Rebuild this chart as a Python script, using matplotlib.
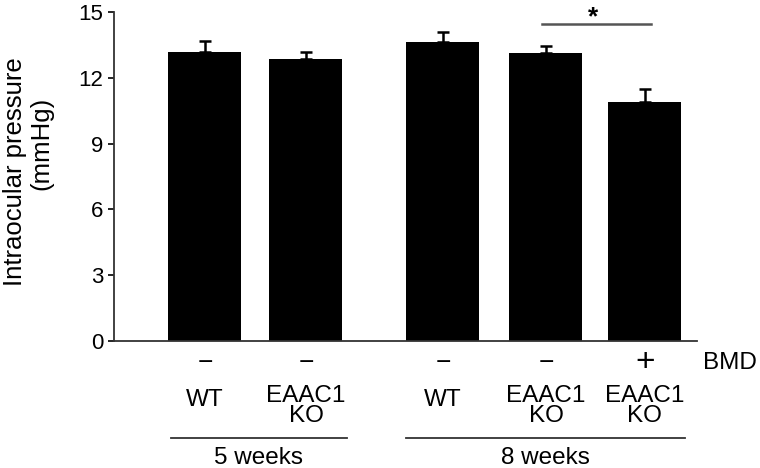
import numpy as np
import matplotlib
matplotlib.use("Agg")
from matplotlib import pyplot as plt
from matplotlib.transforms import blended_transform_factory

plt.rcParams['font.family'] = ['Liberation Sans', 'DejaVu Sans']

# data
positions = [0, 1.01, 2.38, 3.41, 4.40]
iop = [13.18, 12.85, 13.63, 13.12, 10.9]
sem = [0.5, 0.33, 0.46, 0.33, 0.6]
bmd = ['\u2212', '\u2212', '\u2212', '\u2212', '+']
genotype = ['WT', 'EAAC1\nKO', 'WT', 'EAAC1\nKO', 'EAAC1\nKO']
groups = ['5 weeks', '8 weeks']
group_spans = [(-0.34, 1.42), (2.01, 4.80)]
yticks = [0, 3, 6, 9, 12, 15]

fig = plt.figure(figsize=(7.6, 4.68), dpi=100)
ax = fig.add_axes([0.15, 0.2714, 0.767, 0.703])

ax.bar(positions, iop, width=0.73, color='black', zorder=2)
ax.errorbar(positions, iop, yerr=[np.zeros(len(sem)), sem], fmt='none',
            ecolor='black', elinewidth=1.8, capsize=4, capthick=1.8, zorder=1)

ax.set_xlim(-0.91, 4.92)
ax.set_ylim(0, 15)
ax.set_yticks(yticks)
ax.set_xticks([])
ax.tick_params(axis='y', labelsize=16, length=4.5, width=1.2, direction='out', pad=3)
for s in ['top', 'right']:
    ax.spines[s].set_visible(False)
for s in ['left', 'bottom']:
    ax.spines[s].set_linewidth(1.3)
    ax.spines[s].set_color('#333333')

# y label, two lines placed separately
fig.text(15 / 760, 1 - 172 / 468, 'Intraocular pressure', rotation=90,
         ha='center', va='center', fontsize=18.5)
fig.text(41 / 760, 1 - 143 / 468, '(mmHg)', rotation=90,
         ha='center', va='center', fontsize=18.5)

# significance
ax.plot([3.37, 4.46], [14.45, 14.45], color='#555555', lw=1.8, clip_on=False)
ax.text(3.88, 15.3, '*', ha='center', va='top', fontsize=19, fontweight='bold',
        clip_on=False)

trans = blended_transform_factory(ax.transData, ax.transAxes)
for x, b, g in zip(positions, bmd, genotype):
    ax.text(x, -0.066, b, transform=trans, ha='center', va='center',
            fontsize=24 if b == '+' else 19)
    ax.text(x, -0.198 if '\n' in g else -0.18, g, transform=trans, ha='center',
            va='center', fontsize=17.5, linespacing=0.9)
ax.text(5.25, -0.066, 'BMD', transform=trans, ha='center', va='center', fontsize=17.5)

for (x0, x1), name in zip(group_spans, groups):
    ax.plot([x0, x1], [-0.295, -0.295], transform=trans, color='#333333', lw=1.3,
            clip_on=False)
    ax.text((x0 + x1) / 2, -0.357, name, transform=trans, ha='center', va='center',
            fontsize=17.5)

plt.savefig('out.png', dpi=100)
